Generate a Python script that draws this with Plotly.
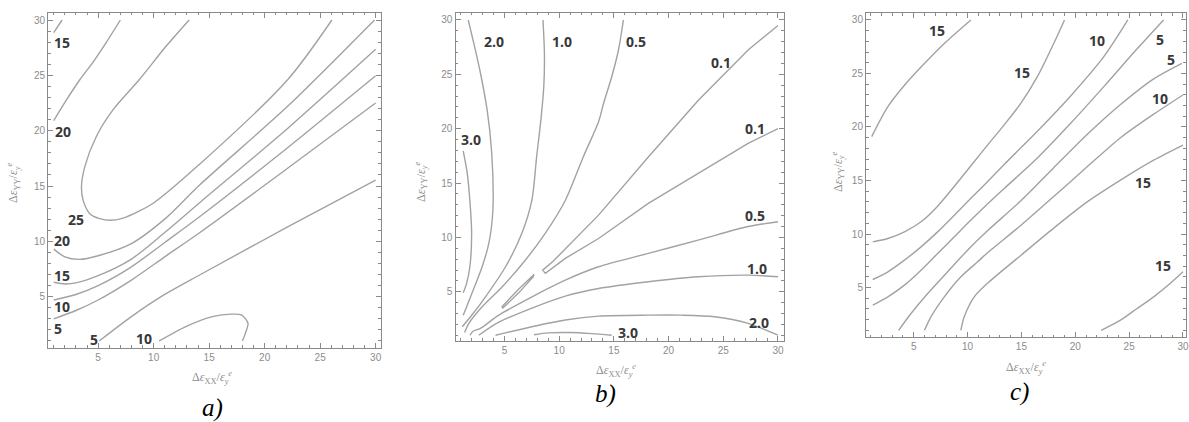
import plotly.graph_objects as go

W, H = 1189, 422

# ---------------- panel a) level curves ----------------
a15_top_x = [1.0, 1.75]
a15_top_y = [28.85, 30.0]
a20_top_x = [1.0, 2.16, 3.35, 4.55, 5.75, 7.0]
a20_top_y = [20.9, 22.8, 24.6, 26.2, 28.0, 30.0]
a25_x = [13.2, 11.1, 8.7, 6.35, 4.85, 3.8, 3.5, 3.65, 4.25, 5.15, 6.05, 7.25, 9.9, 14.14, 22.07, 26.06]
a25_y = [30.0, 27.6, 24.6, 21.9, 19.5, 16.75, 14.9, 13.7, 12.5, 12.05, 11.9, 12.1, 13.4, 16.97, 24.6, 30.0]
a20_x = [1.0, 2.0, 3.35, 5.0, 8.0, 11.1, 14.14, 22.07, 29.9]
a20_y = [9.3, 8.6, 8.37, 8.7, 9.8, 12.1, 15.09, 22.2, 30.0]
a15_x = [1.0, 2.0, 3.0, 5.0, 8.0, 11.0, 14.14, 22.07, 30.0]
a15_y = [6.3, 6.15, 6.25, 6.9, 8.4, 10.8, 13.49, 20.2, 27.35]
a10_x = [1.0, 3.0, 5.0, 8.0, 11.0, 14.14, 22.07, 30.0]
a10_y = [4.7, 5.2, 6.0, 7.7, 9.9, 12.22, 18.46, 24.96]
a5_x = [1.0, 3.0, 5.0, 8.0, 11.0, 14.14, 22.07, 30.0]
a5_y = [3.0, 3.75, 4.7, 6.5, 8.6, 10.78, 16.6, 22.5]
a5_low_x = [5.1, 8.0, 11.0, 14.14, 22.07, 30.0]
a5_low_y = [1.0, 3.2, 5.2, 6.96, 11.3, 15.54]
a10_low_x = [10.5, 12.9, 15.3, 17.0, 17.9, 18.5, 18.3, 18.0]
a10_low_y = [1.0, 2.3, 3.2, 3.42, 3.35, 2.6, 1.8, 1.0]

a_label_text = ["15", "20", "25", "20", "15", "10", "5", "5", "10"]
a_label_x = [1.71, 1.8, 3.0, 1.71, 1.71, 1.71, 1.4, 4.64, 9.1]
a_label_y = [27.95, 19.97, 12.0, 10.06, 6.87, 4.1, 2.15, 1.09, 1.18]

# ---------------- panel b) level curves ----------------
b30_left_x = [1.23, 1.6, 1.84, 2.0, 1.84, 1.54, 1.23]
b30_left_y = [17.97, 15.9, 13.4, 10.4, 7.3, 5.77, 4.9]
b20_top_x = [1.69, 2.2, 2.81, 3.42, 3.82, 3.97, 3.88, 3.57, 2.96, 2.2, 1.6, 1.23]
b20_top_y = [30.0, 27.85, 25.1, 21.7, 18.0, 13.4, 11.6, 9.45, 7.3, 5.3, 3.77, 2.85]
b10_top_x = [8.52, 8.65, 8.6, 8.35, 7.95, 7.5, 6.6, 5.1, 3.27, 1.9, 1.14]
b10_top_y = [30.0, 27.0, 24.0, 21.0, 17.5, 13.4, 10.4, 7.3, 4.54, 2.7, 1.78]
b05_top_x = [15.87, 15.42, 14.81, 14.05, 13.6, 12.2, 10.56, 8.74, 6.9, 4.8, 2.96, 1.75, 1.36]
b05_top_y = [30.0, 27.24, 24.8, 22.3, 20.64, 17.4, 13.4, 10.4, 7.9, 5.46, 3.62, 2.1, 1.26]
b01_x = [30.0, 27.27, 22.7, 18.15, 13.6, 11.0, 9.4, 8.49, 8.74, 10.56, 13.6, 18.15, 22.7, 27.27, 30.0]
b01_y = [29.5, 27.24, 22.6, 17.4, 12.05, 9.4, 7.76, 6.99, 6.69, 8.07, 9.9, 13.13, 15.9, 18.65, 20.0]
b01_loop_x = [4.75, 6.2, 7.7, 7.6, 6.3, 4.85, 4.75]
b01_loop_y = [3.6, 5.15, 6.6, 6.35, 4.9, 3.5, 3.6]
b05_low_x = [30.0, 27.27, 22.7, 18.15, 13.6, 10.56, 7.52, 4.48, 2.8, 2.1, 1.85]
b05_low_y = [11.44, 11.0, 9.75, 8.53, 7.3, 6.07, 4.54, 2.85, 1.63, 1.35, 1.0]
b10_low_x = [30.0, 27.27, 22.7, 18.15, 13.6, 10.56, 7.52, 4.48, 2.66]
b10_low_y = [6.38, 6.53, 6.38, 5.92, 5.3, 4.6, 3.5, 2.2, 1.0]
b20_low_x = [30.0, 27.27, 24.2, 21.2, 18.15, 13.6, 10.56, 7.5, 4.18]
b20_low_y = [1.01, 2.09, 2.7, 2.85, 2.85, 2.76, 2.4, 1.78, 1.0]
b30_low_x = [7.7, 9.0, 11.0, 13.0, 14.8]
b30_low_y = [1.05, 1.22, 1.25, 1.15, 1.0]

b_label_text = ["2.0", "1.0", "0.5", "0.1", "3.0", "0.1", "0.5", "1.0", "2.0", "3.0"]
b_label_x = [4.03, 10.26, 17.03, 24.78, 1.9, 27.87, 27.87, 28.1, 28.27, 16.27]
b_label_y = [28.0, 28.0, 28.0, 26.07, 19.0, 20.03, 12.05, 7.15, 2.15, 1.23]

# ---------------- panel c) level curves ----------------
c15_top_x = [1.1, 2.6, 4.14, 5.68, 7.84, 10.31]
c15_top_y = [19.1, 21.9, 23.9, 25.6, 27.8, 30.0]
c15_x = [1.2, 2.6, 4.14, 5.68, 7.22, 11.85, 13.4, 14.94, 16.48, 18.0, 19.0]
c15_y = [9.27, 9.58, 10.2, 11.14, 12.6, 18.3, 20.2, 22.2, 24.7, 27.8, 30.0]
c10_x = [1.2, 2.6, 4.14, 5.68, 7.22, 8.77, 10.15, 11.85, 13.4, 16.48, 19.57, 22.65, 24.88]
c10_y = [5.75, 6.47, 7.56, 8.8, 10.2, 11.76, 13.17, 14.88, 16.5, 19.6, 22.9, 26.57, 30.0]
c5_x = [1.2, 2.6, 4.14, 5.68, 7.22, 8.77, 10.31, 11.85, 13.4, 16.48, 19.57, 22.65, 25.74, 28.2]
c5_y = [3.35, 4.13, 5.22, 6.62, 8.18, 9.74, 11.3, 12.8, 14.25, 17.1, 20.34, 23.77, 27.3, 30.0]
c5_low_x = [3.6, 4.75, 6.3, 8.15, 10.0, 11.85, 14.94, 18.0, 21.1, 24.2, 27.28, 29.9]
c5_low_y = [1.0, 2.57, 4.44, 6.47, 8.49, 10.3, 13.1, 16.2, 19.3, 22.1, 24.5, 25.95]
c10_low_x = [6.0, 6.6, 7.84, 9.38, 10.93, 11.85, 14.94, 18.0, 21.1, 24.2, 27.28, 30.0]
c10_low_y = [1.0, 2.26, 4.13, 6.0, 7.4, 8.25, 10.8, 13.5, 16.28, 19.0, 21.2, 22.99]
c15_low_x = [9.38, 9.69, 10.62, 11.85, 14.94, 18.0, 21.1, 24.2, 27.28, 30.0]
c15_low_y = [1.0, 2.26, 4.13, 5.4, 8.0, 10.55, 13.0, 15.04, 16.9, 18.31]
c15_corner_x = [22.4, 24.2, 25.74, 27.28, 28.8, 30.0]
c15_corner_y = [1.0, 1.95, 3.04, 4.13, 5.37, 6.47]

c_label_text = ["15", "15", "10", "5", "5", "10", "15", "15"]
c_label_x = [7.16, 15.03, 21.98, 27.84, 28.89, 27.9, 26.3, 28.12]
c_label_y = [29.0, 25.07, 28.07, 28.19, 26.32, 22.67, 14.79, 7.03]

panel_names = ["a)", "b)", "c)"]

# ---------------- grouping ----------------
curves = [
    [(a15_top_x, a15_top_y), (a20_top_x, a20_top_y), (a25_x, a25_y), (a20_x, a20_y),
     (a15_x, a15_y), (a10_x, a10_y), (a5_x, a5_y), (a5_low_x, a5_low_y), (a10_low_x, a10_low_y)],
    [(b30_left_x, b30_left_y), (b20_top_x, b20_top_y), (b10_top_x, b10_top_y), (b05_top_x, b05_top_y),
     (b01_x, b01_y), (b01_loop_x, b01_loop_y), (b05_low_x, b05_low_y), (b10_low_x, b10_low_y),
     (b20_low_x, b20_low_y), (b30_low_x, b30_low_y)],
    [(c15_top_x, c15_top_y), (c15_x, c15_y), (c10_x, c10_y), (c5_x, c5_y), (c5_low_x, c5_low_y),
     (c10_low_x, c10_low_y), (c15_low_x, c15_low_y), (c15_corner_x, c15_corner_y)],
]
angular = {id(b01_x), id(b01_loop_x)}
labels = [
    (a_label_text, a_label_x, a_label_y),
    (b_label_text, b_label_x, b_label_y),
    (c_label_text, c_label_x, c_label_y),
]

# frame placement in pixels (left, right, top, bottom) and the data extent of each frame
frames = [
    dict(px=(48.3, 381.7), py=(12.7, 347.7), xr=(0.5, 30.46), yr=(0.39, 30.66)),
    dict(px=(456.7, 786.0), py=(12.7, 340.7), xr=(0.53, 30.55), yr=(0.50, 30.67)),
    dict(px=(868.3, 1189.0), py=(13.3, 337.3), xr=(0.58, 30.28), yr=(0.35, 30.62)),
]
xtitle_pos = [(213, 377), (618, 370), (1029, 367)]
ytitle_pos = [(13, 183), (422, 182), (840, 172)]
name_pos = [(213, 408), (607, 394), (1022, 392)]

LINE_COLOR = "#a2a2a2"
FRAME_COLOR = "#8a8a8a"
TICK_FONT = dict(family="Liberation Sans", size=10, color="#8c8c8c")
LABEL_FONT = dict(family="Open Sans", size=14, color="#383838", weight="bold")
TITLE_FONT = dict(family="Liberation Serif", size=12, color="#8c8c8c")
NAME_FONT = dict(family="Liberation Serif", size=25, color="#000000", style="italic")

XTITLE = "Δ<i>ε</i><sub>XX</sub>/<i>ε</i><sub><i>y</i></sub><sup><i>e</i></sup>"
YTITLE = "Δ<i>ε</i><sub>YY</sub>/<i>ε</i><sub><i>y</i></sub><sup><i>e</i></sup>"

fig = go.Figure()
layout_axes = {}
annotations = []

for k in range(3):
    sfx = "" if k == 0 else str(k + 1)
    xa, ya = "x" + sfx, "y" + sfx
    for cx, cy in curves[k]:
        shape = "linear" if id(cx) in angular else "spline"
        fig.add_trace(go.Scatter(
            x=cx, y=cy, mode="lines", xaxis=xa, yaxis=ya, showlegend=False,
            hoverinfo="skip",
            line=dict(color=LINE_COLOR, width=1.4, shape=shape, smoothing=0.8),
        ))
    # level values written beside their curves, placed in data coordinates
    txt, lx, ly = labels[k]
    for t, x, y in zip(txt, lx, ly):
        annotations.append(dict(
            x=x, y=y, xref=xa, yref=ya, text=t, showarrow=False,
            font=LABEL_FONT, xanchor="center", yanchor="middle",
        ))

    f = frames[k]
    common = dict(
        showline=True, mirror="allticks", linecolor=FRAME_COLOR, linewidth=1.3,
        ticks="inside", ticklen=5, tickwidth=1, tickcolor=FRAME_COLOR,
        tickmode="linear", tick0=0, dtick=5, tickfont=TICK_FONT,
        minor=dict(ticks="inside", ticklen=2.5, tickwidth=1, tickcolor=FRAME_COLOR, dtick=1, tick0=0),
        showgrid=False, zeroline=False, fixedrange=True,
    )
    layout_axes["xaxis" + sfx] = dict(
        common, range=list(f["xr"]), anchor=ya, ticklabeloverflow="allow",
        domain=[f["px"][0] / W, min(f["px"][1] / W, 1.0)],
    )
    layout_axes["yaxis" + sfx] = dict(
        common, range=list(f["yr"]), anchor=xa,
        domain=[1 - f["py"][1] / H, 1 - f["py"][0] / H],
    )

    tx, ty = xtitle_pos[k]
    annotations.append(dict(
        x=tx / W, y=1 - ty / H, xref="paper", yref="paper", text=XTITLE, showarrow=False,
        font=TITLE_FONT, xanchor="center", yanchor="middle",
    ))
    vx, vy = ytitle_pos[k]
    annotations.append(dict(
        x=vx / W, y=1 - vy / H, xref="paper", yref="paper", text=YTITLE, showarrow=False,
        textangle=-90, font=TITLE_FONT, xanchor="center", yanchor="middle",
    ))
    nx, ny = name_pos[k]
    annotations.append(dict(
        x=nx / W, y=1 - ny / H, xref="paper", yref="paper", text=panel_names[k],
        showarrow=False, font=NAME_FONT, xanchor="center", yanchor="middle",
    ))

fig.update_layout(
    width=W, height=H, autosize=False,
    margin=dict(l=0, r=0, t=0, b=0),
    font=dict(family="Liberation Sans", size=10, color="#8c8c8c"),
    paper_bgcolor="white", plot_bgcolor="white",
    annotations=annotations,
    **layout_axes,
)

fig.write_html("out.html", config={"displayModeBar": False})
